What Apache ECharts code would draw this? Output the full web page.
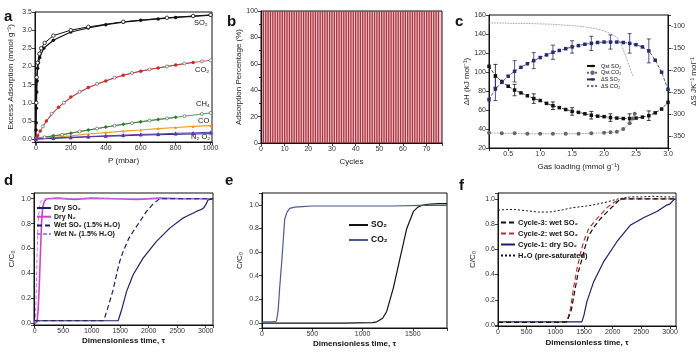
<!DOCTYPE html>
<html><head><meta charset="utf-8">
<script src="https://cdn.jsdelivr.net/npm/echarts@6/dist/echarts.min.js"></script>
<style>html,body{margin:0;padding:0;background:#fff}#c{width:700px;height:359px}</style>
</head><body><div id="c"></div>
<script>
// ---------- Panel a: adsorption isotherms ----------
const aSO2AdsP = [0, 1, 2, 3, 5, 7, 10, 15, 22, 45, 100, 200, 300, 400, 500, 600, 700, 800, 900, 1000];
const aSO2AdsV = [0.02, 0.25, 0.45, 0.85, 1.3, 1.6, 1.95, 2.1, 2.25, 2.5, 2.72, 2.95, 3.06, 3.15, 3.22, 3.27, 3.31, 3.35, 3.38, 3.41];
const aSO2DesP = [1000, 900, 750, 500, 300, 200, 100, 50, 30, 20, 10, 5, 2];
const aSO2DesV = [3.42, 3.39, 3.34, 3.23, 3.09, 3.0, 2.85, 2.65, 2.5, 2.35, 2.1, 1.7, 1.0];
const aCO2AdsP = [0, 10, 25, 60, 130, 200, 300, 400, 500, 600, 700, 800, 900];
const aCO2AdsV = [0.0, 0.1, 0.22, 0.5, 0.88, 1.16, 1.42, 1.6, 1.76, 1.87, 1.96, 2.04, 2.11];
const aCO2DesP = [1000, 950, 850, 750, 650, 550, 450, 350, 250, 160, 90, 40];
const aCO2DesV = [2.17, 2.14, 2.08, 2.0, 1.92, 1.82, 1.69, 1.52, 1.3, 1.0, 0.7, 0.35];
const aCH4AdsP = [0, 100, 200, 300, 400, 500, 600, 700, 800];
const aCH4AdsV = [0.03, 0.09, 0.16, 0.25, 0.33, 0.41, 0.48, 0.54, 0.6];
const aCH4DesP = [1000, 950, 850, 750, 650, 550, 450, 350, 250, 150, 50];
const aCH4DesV = [0.72, 0.69, 0.63, 0.57, 0.51, 0.44, 0.37, 0.29, 0.21, 0.12, 0.05];
const aCOP = [0, 100, 200, 300, 400, 500, 600, 700, 800, 900, 1000];
const aCOV = [0.01, 0.05, 0.09, 0.14, 0.18, 0.22, 0.25, 0.29, 0.32, 0.35, 0.37];
const aN2P = [0, 100, 200, 300, 400, 500, 600, 700, 800, 900, 1000];
const aN2V = [0.0, 0.03, 0.05, 0.07, 0.09, 0.11, 0.13, 0.14, 0.16, 0.17, 0.19];
const aO2P = [0, 100, 200, 300, 400, 500, 600, 700, 800, 900, 1000];
const aO2V = [0.0, 0.02, 0.04, 0.06, 0.08, 0.09, 0.11, 0.12, 0.13, 0.14, 0.15];
const aLabels = ['SO₂', 'CO₂', 'CH₄', 'CO', 'N₂ O₂'];

// ---------- Panel b: cycling ----------
const bCycles = [1,2,3,4,5,6,7,8,9,10,11,12,13,14,15,16,17,18,19,20,21,22,23,24,25,26,27,28,29,30,31,32,33,34,35,36,37,38,39,40,41,42,43,44,45,46,47,48,49,50,51,52,53,54,55,56,57,58,59,60,61,62,63,64,65,66,67,68,69,70,71,72,73,74,75];
const bValues = [100,100,100,100,100,100,100,100,100,100,100,100,100,100,100,100,100,100,100,100,100,100,100,100,100,100,100,100,100,100,100,100,100,100,100,100,100,100,100,100,100,100,100,100,100,100,100,100,100,100,100,100,100,100,100,100,100,100,100,100,100,100,100,100,100,100,100,100,100,100,100,100,100,100,100];

// ---------- Panel c: thermodynamics ----------
const cX = [0.2,0.3,0.4,0.5,0.6,0.7,0.8,0.9,1.0,1.1,1.2,1.3,1.4,1.5,1.6,1.7,1.8,1.9,2.0,2.1,2.2,2.3,2.4,2.5,2.6,2.7,2.8,2.9,3.0];
const cQstSO2 = [106,96,90,85,81,78,75,72,70,67,64.5,62.5,60.5,58.5,57.5,56,54.5,53.5,53,52,51.5,51,51,51.5,52.5,54,57,61,68];
const cDSSO2 = [-267,-243,-228,-214,-203,-194,-186,-179,-172,-166,-160,-156,-152,-148,-145,-142,-140,-138,-137,-137,-137,-138,-140,-143,-148,-157,-178,-205,-244];
const cErrX = [0.3,0.6,0.9,1.2,1.5,1.8,2.1,2.4,2.7];
const cQstErr = [12,6,5,4,4,4,4,5,5];
const cDSErr = [26,24,18,16,14,16,16,22,27];
const cQstCO2X = [0.2,0.4,0.6,0.8,1.0,1.2,1.4,1.6,1.8,2.0,2.1,2.2,2.3,2.4,2.45,2.48];
const cQstCO2 = [36,35.5,35.5,35,35,35,35,35,35.5,36,36.5,37,40,46,51,56];
const cDSCO2X = [0.2,0.4,0.6,0.8,1.0,1.2,1.4,1.6,1.8,1.9,2.0,2.1,2.2,2.27,2.35,2.43,2.46];
const cDSCO2 = [-94,-94,-95,-95,-96,-97,-99,-101,-105,-108,-112,-118,-126,-143,-173,-206,-215];

// ---------- Panel d: breakthrough dry / wet ----------
const dDrySO2X = [0,300,600,900,1200,1400,1464,1520,1611,1727,1902,2136,2370,2603,2837,2930,2970,3000,3040,3128];
const dDrySO2Y = [0.02,0.02,0.02,0.02,0.02,0.02,0.02,0.1,0.254,0.389,0.523,0.657,0.764,0.845,0.898,0.915,0.93,0.95,0.99,1.0];
const dWetSO2X = [0,400,800,1200,1232,1300,1377,1450,1494,1552,1650,1727,1850,1961,2080,2194,2500,2800,3128];
const dWetSO2Y = [0.02,0.02,0.02,0.02,0.05,0.15,0.27,0.42,0.5,0.576,0.68,0.737,0.82,0.898,0.96,1.0,1.0,1.0,1.0];
const dDryN2X = [0,40,60,80,100,120,140,170,220,400,700,1000,1400,1800,2200,2600,3000,3128];
const dDryN2Y = [0.0,0.01,0.1,0.3,0.55,0.8,0.93,0.98,1.0,1.005,0.995,1.005,1.0,0.995,1.005,1.0,1.0,1.0];
const dWetN2X = [0,15,30,45,60,80,100,130,170,300,3128];
const dWetN2Y = [0.0,0.05,0.3,0.6,0.8,0.92,0.97,0.99,1.0,1.0,1.0];

// ---------- Panel e: SO2 vs CO2 ----------
const eCO2X = [0,100,143,160,176,199,226,250,276,326,400,500,700,1000,1300,1600,1840];
const eCO2Y = [0.01,0.01,0.015,0.1,0.3,0.55,0.88,0.94,0.97,0.98,0.985,0.99,0.99,0.99,0.99,0.995,0.995];
const eSO2X = [0,400,800,1100,1141,1200,1240,1306,1373,1440,1506,1550,1589,1650,1750,1840];
const eSO2Y = [0.0,0.0,0.0,0.003,0.01,0.04,0.098,0.296,0.55,0.8,0.944,0.98,0.995,1.005,1.01,1.01];

// ---------- Panel f: cycles ----------
const fH2OX = [0,150,300,500,700,900,1100,1300,1500,1700,1900,2100,2300,2500,2700,2900,3104];
const fH2OY = [0.91,0.915,0.915,0.905,0.895,0.895,0.91,0.93,0.94,0.955,0.975,1.0,1.015,1.015,1.02,1.015,1.015];
const fC3X = [0,1000,1200,1280,1347,1400,1463,1520,1579,1680,1782,1870,1956,2050,2131,2300,2600,3104];
const fC3Y = [0.02,0.02,0.025,0.12,0.29,0.42,0.52,0.62,0.706,0.78,0.84,0.88,0.92,0.96,1.0,1.0,1.0,1.0];
const fC2X = [0,1000,1200,1260,1320,1380,1440,1500,1579,1700,1782,1900,2015,2100,2200,3104];
const fC2Y = [0.02,0.02,0.025,0.12,0.3,0.45,0.57,0.67,0.76,0.83,0.87,0.93,0.97,0.99,1.0,1.0];
const fC1X = [0,500,1000,1400,1463,1500,1550,1666,1840,2073,2305,2537,2770,2944,3000,3060,3104];
const fC1Y = [0.025,0.025,0.025,0.025,0.025,0.08,0.185,0.34,0.5,0.66,0.79,0.85,0.9,0.95,0.96,0.99,1.0];

// ---------- helpers ----------
const F = 'Liberation Sans, Arial, Helvetica, sans-serif';
const pairs = (xs, ys) => xs.map((x, i) => [x, ys[i]]);
function lab(step, dec) {
  return {fontSize: 7, color: '#333', margin: 3, fontFamily: F,
    formatter: v => { const k = v / step; return Math.abs(k - Math.round(k)) < 1e-6 ? Number(v).toFixed(dec) : ''; }};
}
function ax(gi, min, max, step, dec, name, gap, extra) {
  return Object.assign({
    type: 'value', gridIndex: gi, min: min, max: max, minInterval: step, maxInterval: step, splitNumber: 6,
    axisLine: {show: true, onZero: false, lineStyle: {color: '#111', width: 1}},
    axisTick: {show: true, length: 3, lineStyle: {color: '#111', width: 0.8}},
    axisLabel: lab(step, dec),
    splitLine: {show: false},
    name: name, nameLocation: 'middle', nameGap: gap,
    nameTextStyle: {fontSize: 8, color: '#222', fontFamily: F}
  }, extra || {});
}
const boldName = {nameTextStyle: {fontSize: 8, color: '#111', fontFamily: F, fontWeight: 'bold'}};

function line(name, xi, yi, data, color, o) {
  return Object.assign({name: name, type: 'line', xAxisIndex: xi, yAxisIndex: yi, data: data,
    symbol: 'none', smooth: false, color: color,
    lineStyle: {color: color, width: 1.2}, emphasis: {disabled: true}}, o || {});
}
function errBars(name, yi, xs, centersX, centers, errs, color) {
  const data = xs.map((x, i) => { const j = centersX.findIndex(c => Math.abs(c - x) < 1e-9); return [x, centers[j], errs[i]]; });
  return {name: name, type: 'custom', xAxisIndex: 2, yAxisIndex: yi, data: data, encode: {x: 0, y: 1},
    renderItem: (params, api) => {
      const x = api.value(0), y = api.value(1), e = api.value(2);
      const p1 = api.coord([x, y + e]), p2 = api.coord([x, y - e]);
      const st = {stroke: color, lineWidth: 0.8};
      return {type: 'group', children: [
        {type: 'line', shape: {x1: p1[0], y1: p1[1], x2: p2[0], y2: p2[1]}, style: st},
        {type: 'line', shape: {x1: p1[0] - 2, y1: p1[1], x2: p1[0] + 2, y2: p1[1]}, style: st},
        {type: 'line', shape: {x1: p2[0] - 2, y1: p2[1], x2: p2[0] + 2, y2: p2[1]}, style: st}
      ]};
    }};
}
function legend(names, left, top, fs, lh, gap, iw, bold, noMarker) {
  const l = {show: true, orient: 'vertical', left: left, top: top, padding: 0, itemGap: gap,
    itemWidth: iw, itemHeight: Math.max(3, lh - 3), data: names, selectedMode: false,
    textStyle: {fontSize: fs, lineHeight: lh, color: '#111', fontFamily: F, fontWeight: bold ? 'bold' : 'normal', padding: [0, 0, 0, -2]}};
  if (noMarker) l.itemStyle = {opacity: 0};
  return l;
}

const gridBase = {show: true, borderColor: '#111', borderWidth: 1, containLabel: false};
const option = {
  animation: false,
  backgroundColor: '#fff',
  grid: [
    Object.assign({left: 35, top: 12, width: 177, height: 130}, gridBase),
    Object.assign({left: 261, top: 11, width: 181, height: 132, backgroundColor: '#f4c8cd'}, gridBase),
    Object.assign({left: 489, top: 15, width: 179, height: 133}, gridBase),
    Object.assign({left: 34, top: 193, width: 179, height: 132}, gridBase),
    Object.assign({left: 262, top: 193, width: 185, height: 135}, gridBase),
    Object.assign({left: 498, top: 193, width: 178, height: 133}, gridBase)
  ],
  xAxis: [
    ax(0, -5, 1008, 200, 0, 'P (mbar)', 15),
    ax(1, 0, 76.5, 10, 0, 'Cycles', 15),
    ax(2, 0.2, 3.0, 0.5, 1, 'Gas loading (mmol g⁻¹)', 15),
    ax(3, -12, 3128, 500, 0, 'Dimensionless time, τ', 12, boldName),
    ax(4, 0, 1840, 500, 0, 'Dimensionless time, τ', 12, boldName),
    ax(5, 0, 3104, 500, 0, 'Dimensionless time, τ', 13, boldName)
  ],
  yAxis: [
    ax(0, -0.08, 3.5, 0.5, 1, 'Excess Adsorption (mmol g⁻¹)', 20),
    ax(1, 0, 100, 20, 0, 'Adsorption Percentage (%)', 18, {minorTick: {show: true, splitNumber: 2, length: 2, lineStyle: {color: '#111'}}}),
    ax(2, 20, 160, 20, 0, 'ΔH (kJ mol⁻¹)', 18),
    ax(2, -376, -76, 50, 0, 'ΔS JK⁻¹ mol⁻¹', 22, {position: 'right'}),
    ax(3, -0.014, 1.046, 0.2, 1, 'C/C₀', 18),
    ax(4, -0.042, 1.1, 0.2, 1, 'C/C₀', 18),
    ax(5, -0.008, 1.046, 0.2, 1, 'C/C₀', 21)
  ],
  legend: [
    legend(['Qst SO₂', 'Qst CO₂', 'ΔS SO₂', 'ΔS CO₂'], 586, 63, 5.5, 6, 0.7, 11, false, false),
    legend(['Dry SO₂', 'Dry N₂', 'Wet SO₂ (1.5% H₂O)', 'Wet N₂ (1.5% H₂O)'], 36, 204, 7, 8, 0.7, 14, true, true),
    legend(['SO₂', 'CO₂'], 348, 220, 8.5, 10, 5, 19, true, true),
    legend(['Cycle-3: wet SO₂', 'Cycle-2: wet SO₂', 'Cycle-1: dry SO₂', 'H₂O (pre-saturated)'], 500, 218, 7.5, 9, 2, 14, true, true)
  ],
  series: [
    // a
    line('a-SO2-ads', 0, 0, pairs(aSO2AdsP, aSO2AdsV), '#111', {symbol: 'circle', symbolSize: 3.5, lineStyle: {color: '#111', width: 1.2}}),
    line('a-SO2-des', 0, 0, pairs(aSO2DesP, aSO2DesV), '#111', {symbol: 'circle', symbolSize: 3.5, itemStyle: {color: '#fff', borderColor: '#111', borderWidth: 0.8}, lineStyle: {color: '#111', width: 1}}),
    line('a-CO2-ads', 0, 0, pairs(aCO2AdsP, aCO2AdsV), '#c0302a', {symbol: 'circle', symbolSize: 3.5, lineStyle: {color: '#c0302a', width: 0.8}}),
    line('a-CO2-des', 0, 0, pairs(aCO2DesP, aCO2DesV), '#c0302a', {symbol: 'circle', symbolSize: 3, itemStyle: {color: '#fff', borderColor: '#444', borderWidth: 0.6}, lineStyle: {color: '#c0302a', width: 0.8}}),
    line('a-CH4-ads', 0, 0, pairs(aCH4AdsP, aCH4AdsV), '#2e7d32', {symbol: 'diamond', symbolSize: 4, lineStyle: {color: '#2e7d32', width: 0.8}}),
    line('a-CH4-des', 0, 0, pairs(aCH4DesP, aCH4DesV), '#2e7d32', {symbol: 'circle', symbolSize: 3, itemStyle: {color: '#fff', borderColor: '#444', borderWidth: 0.6}, lineStyle: {color: '#2e7d32', width: 0.8}}),
    line('a-CO', 0, 0, pairs(aCOP, aCOV), '#e8a020', {symbol: 'triangle', symbolSize: 3, lineStyle: {color: '#e8a020', width: 1.2}}),
    line('a-O2', 0, 0, pairs(aO2P, aO2V), '#203080', {symbol: 'circle', symbolSize: 2.5, itemStyle: {color: '#fff', borderColor: '#203080', borderWidth: 0.6}, lineStyle: {color: '#203080', width: 1}}),
    line('a-N2', 0, 0, pairs(aN2P, aN2V), '#6a2fb0', {symbol: 'triangle', symbolSize: 4, lineStyle: {color: '#6a2fb0', width: 1}}),
    // b
    {name: 'b-cycles', type: 'bar', xAxisIndex: 1, yAxisIndex: 1, data: pairs(bCycles, bValues), barWidth: 1.3,
      itemStyle: {color: '#a8323e'}, emphasis: {disabled: true}},
    // c
    line('Qst SO₂', 2, 2, pairs(cX, cQstSO2), '#111', {symbol: 'rect', symbolSize: 3.5, lineStyle: {color: '#111', width: 0.8, type: 'dashed'}}),
    line('Qst CO₂', 2, 2, pairs(cQstCO2X, cQstCO2), '#666', {symbol: 'emptyCircle', symbolSize: 2, lineStyle: {color: '#666', width: 0.8, type: 'dotted'}}),
    line('ΔS SO₂', 2, 3, pairs(cX, cDSSO2), '#262a6e', {symbol: 'rect', symbolSize: 3.5, lineStyle: {color: '#262a6e', width: 0.8, type: 'dashed'}}),
    line('ΔS CO₂', 2, 3, pairs(cDSCO2X, cDSCO2), '#6a70a0', {symbol: 'none', lineStyle: {color: '#6a70a0', width: 0.8, type: 'dotted'}}),
    errBars('c-errQ', 2, cErrX, cX, cQstSO2, cQstErr, '#111'),
    errBars('c-errS', 3, cErrX, cX, cDSSO2, cDSErr, '#262a6e'),
    // d
    line('Dry N₂', 3, 4, pairs(dDryN2X, dDryN2Y), '#d040c8', {lineStyle: {color: '#d040c8', width: 1.6}}),
    line('Wet N₂ (1.5% H₂O)', 3, 4, pairs(dWetN2X, dWetN2Y), '#b080d8', {lineStyle: {color: '#b080d8', width: 1, type: [4, 2]}}),
    line('Wet SO₂ (1.5% H₂O)', 3, 4, pairs(dWetSO2X, dWetSO2Y), '#1c1f66', {lineStyle: {color: '#1c1f66', width: 1.2, type: [5, 3]}}),
    line('Dry SO₂', 3, 4, pairs(dDrySO2X, dDrySO2Y), '#1c1f66', {lineStyle: {color: '#1c1f66', width: 1.2}}),
    // e
    line('SO₂', 4, 5, pairs(eSO2X, eSO2Y), '#111', {lineStyle: {color: '#111', width: 1.2}}),
    line('CO₂', 4, 5, pairs(eCO2X, eCO2Y), '#4a5a8c', {lineStyle: {color: '#4a5a8c', width: 1.2}}),
    // f
    line('H₂O (pre-saturated)', 5, 6, pairs(fH2OX, fH2OY), '#111', {lineStyle: {color: '#111', width: 1, type: [2, 2]}}),
    line('Cycle-1: dry SO₂', 5, 6, pairs(fC1X, fC1Y), '#1c1f66', {lineStyle: {color: '#1c1f66', width: 1.2}}),
    line('Cycle-2: wet SO₂', 5, 6, pairs(fC2X, fC2Y), '#c0302a', {lineStyle: {color: '#c0302a', width: 1.2, type: [5, 3]}}),
    line('Cycle-3: wet SO₂', 5, 6, pairs(fC3X, fC3Y), '#111', {lineStyle: {color: '#111', width: 1.2, type: [5, 3]}})
  ],
  graphic: [
    {type: 'text', left: 4, top: 9, style: {text: 'a', font: 'bold 15px ' + F, fill: '#111'}},
    {type: 'text', left: 227, top: 14, style: {text: 'b', font: 'bold 15px ' + F, fill: '#111'}},
    {type: 'text', left: 455, top: 14, style: {text: 'c', font: 'bold 15px ' + F, fill: '#111'}},
    {type: 'text', left: 4, top: 173, style: {text: 'd', font: 'bold 15px ' + F, fill: '#111'}},
    {type: 'text', left: 225, top: 173, style: {text: 'e', font: 'bold 15px ' + F, fill: '#111'}},
    {type: 'text', left: 459, top: 178, style: {text: 'f', font: 'bold 15px ' + F, fill: '#111'}},
    {type: 'text', left: 194, top: 19, style: {text: aLabels[0], font: '7.5px ' + F, fill: '#111'}},
    {type: 'text', left: 195, top: 66, style: {text: aLabels[1], font: '7.5px ' + F, fill: '#111'}},
    {type: 'text', left: 196, top: 100, style: {text: aLabels[2], font: '7.5px ' + F, fill: '#111'}},
    {type: 'text', left: 198, top: 117, style: {text: aLabels[3], font: '7.5px ' + F, fill: '#111'}},
    {type: 'text', left: 191, top: 133, style: {text: aLabels[4], font: '7.5px ' + F, fill: '#111'}}
  ]
};
const chart = echarts.init(document.getElementById('c'), null, {renderer: 'canvas'});
chart.setOption(option);
</script></body></html>
